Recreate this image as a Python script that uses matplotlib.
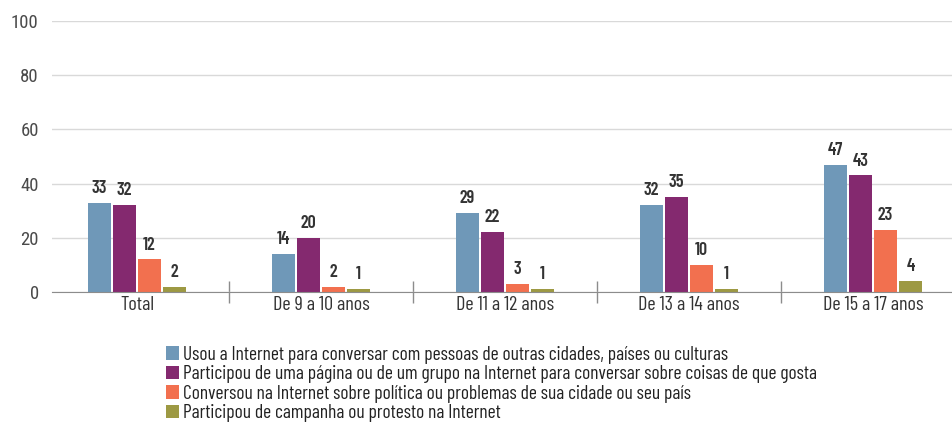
import numpy as np
import matplotlib
matplotlib.use("Agg")
import matplotlib.pyplot as plt
from matplotlib.patches import Patch
from matplotlib.ticker import FixedLocator

plt.rcParams["font.family"] = ["Barlow Condensed", "DejaVu Sans"]

# ── Data ───────────────────────────────────────────────────────────────────
categories = ["Total", "De 9 a 10 anos", "De 11 a 12 anos",
              "De 13 a 14 anos", "De 15 a 17 anos"]
series_names = [
    "Usou a Internet para conversar com pessoas de outras cidades, países ou culturas",
    "Participou de uma página ou de um grupo na Internet para conversar sobre coisas de que gosta",
    "Conversou na Internet sobre política ou problemas de sua cidade ou seu país",
    "Participou de campanha ou protesto na Internet",
]
usou = [33, 14, 29, 32, 47]
participou_grupo = [32, 20, 22, 35, 43]
conversou_politica = [12, 2, 3, 10, 23]
campanha = [2, 1, 1, 1, 4]
yticks = [0, 20, 40, 60, 80, 100]

series = [usou, participou_grupo, conversou_politica, campanha]
colors = ["#6f98b8", "#84296f", "#f2704f", "#9d9943"]

# ── Figure ─────────────────────────────────────────────────────────────────
W, H = 953, 425
fig = plt.figure(figsize=(W / 100, H / 100), dpi=100)
left, right, top, bottom = 52, 953, 21, 292
ax = fig.add_axes([left / W, 1 - bottom / H, (right - left) / W, (bottom - top) / H])

x = np.arange(len(categories))
bw = 0.125
step = 0.136
offsets = (np.arange(4) - 1.5) * step

for i, vals in enumerate(series):
    bars = ax.bar(x + offsets[i], vals, width=bw, color=colors[i], zorder=3)
    for rect, v in zip(bars, vals):
        ax.text(rect.get_x() + rect.get_width() / 2, v + 2.2, str(v),
                ha="center", va="bottom", fontsize=13, fontweight="semibold",
                color="#333333")

ax.set_ylim(0, 100)
ax.set_xlim(-0.5 + 7 / 184, 4.5 - 12 / 184)
ax.set_yticks(yticks)
ax.set_xticks(x)
ax.set_xticklabels(categories)
ax.xaxis.set_minor_locator(FixedLocator([0.5, 1.5, 2.5, 3.5]))
for lab in ax.get_yticklabels():
    lab.set_fontfamily(["Roboto Condensed", "DejaVu Sans"])

ax.grid(axis="y", color="#d9d9d9", lw=1, zorder=0)
for s in ["top", "right", "left"]:
    ax.spines[s].set_visible(False)
ax.spines["bottom"].set_color("#8c8c8c")
ax.spines["bottom"].set_zorder(4)

ax.tick_params(axis="y", length=0, labelsize=13.5, labelcolor="#4a4a4a", pad=9.5)
ax.tick_params(axis="x", which="major", length=0, labelsize=14.5,
               labelcolor="#333333", pad=3)
ax.tick_params(axis="x", which="minor", direction="inout", length=16,
               color="#8c8c8c", width=1)

handles = [Patch(facecolor=c, edgecolor="none") for c in colors]
fig.legend(handles, series_names, loc="upper left",
           bbox_to_anchor=(156 / W, 1 - 336 / H), frameon=False,
           fontsize=14, handlelength=0.7, handleheight=0.7,
           handletextpad=0.2, labelspacing=0.08, borderpad=0,
           labelcolor="#222222")

fig.savefig("out.png", dpi=100)
